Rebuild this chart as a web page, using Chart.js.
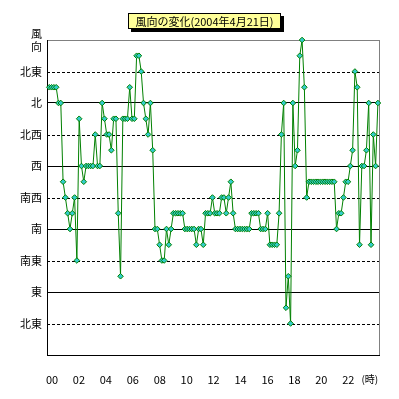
<!DOCTYPE html>
<html>
<head>
<meta charset="utf-8">
<script src="https://cdn.jsdelivr.net/npm/chart.js@4.4.0/dist/chart.umd.min.js"></script>
<style>
html, body { margin: 0; padding: 0; background: #fff; }
#wrap { width: 399px; height: 399px; }
</style>
</head>
<body>
<div id="wrap"><canvas id="windCanvas" width="399" height="399"></canvas></div>
<script>
// タイトル
const chartTitle = '風向の変化(2004年4月21日)';

// 縦軸の方位ラベル (0.5 刻みで16方位)
const yLabels = ['', '北東', '東', '南東', '南', '南西', '西', '北西', '北', '北東', ['風', '向']];

// 横軸の目盛 (時)
const tickHours = [0, 2, 4, 6, 8, 10, 12, 14, 16, 18, 20, 22, 23.6];
const tickTexts = ['00', '02', '04', '06', '08', '10', '12', '14', '16', '18', '20', '22', '(時)'];

// 10分ごとの風向 00:00 - 23:50
const direction = [
  8.5, 8.5, 8.5, 8.5, 8.0, 8.0, 5.5, 5.0, 4.5, 4.0, 4.5, 5.0,
  3.0, 7.5, 6.0, 5.5, 6.0, 6.0, 6.0, 6.0, 7.0, 6.0, 6.0, 8.0,
  7.5, 7.0, 7.0, 6.5, 7.5, 7.5, 4.5, 2.5, 7.5, 7.5, 7.5, 8.5,
  7.5, 7.5, 9.5, 9.5, 9.0, 8.0, 7.5, 7.0, 8.0, 6.5, 4.0, 4.0,
  3.5, 3.0, 3.0, 4.0, 3.5, 4.0, 4.5, 4.5, 4.5, 4.5, 4.5, 4.0,
  4.0, 4.0, 4.0, 4.0, 3.5, 4.0, 4.0, 3.5, 4.5, 4.5, 4.5, 5.0,
  4.5, 4.5, 4.5, 5.0, 5.0, 4.5, 5.0, 5.5, 4.5, 4.0, 4.0, 4.0,
  4.0, 4.0, 4.0, 4.0, 4.5, 4.5, 4.5, 4.5, 4.0, 4.0, 4.0, 4.5,
  3.5, 3.5, 3.5, 3.5, 4.5, 7.0, 8.0, 1.5, 2.5, 1.0, 8.0, 6.0,
  6.5, 9.5, 10.0, 8.5, 5.0, 5.5, 5.5, 5.5, 5.5, 5.5, 5.5, 5.5,
  5.5, 5.5, 5.5, 5.5, 5.5, 4.0, 4.5, 4.5, 5.0, 5.5, 5.5, 6.0,
  6.5, 9.0, 8.5, 3.5, 6.0, 6.0, 6.5, 8.0, 3.5, 7.0, 6.0, 8.0
];

// 時刻 (時間単位)
const times = direction.map((v, i) => i / 6);

const cjkFont = 'Noto Sans CJK JP';

// 点線の目盛線と右側の枠
const gridPlugin = {
  id: 'gridPlugin',
  beforeDatasetsDraw(chart) {
    const { ctx, chartArea, scales } = chart;
    const y = scales.y;
    ctx.save();
    ctx.strokeStyle = '#000';
    ctx.lineWidth = 1;
    ctx.setLineDash([3, 2]);
    y.ticks.forEach(t => {
      if (t.value % 2 === 1) {
        const py = Math.round(y.getPixelForValue(t.value)) + 0.5;
        ctx.beginPath();
        ctx.moveTo(chartArea.left, py);
        ctx.lineTo(chartArea.right, py);
        ctx.stroke();
      }
    });
    ctx.setLineDash([]);
    ctx.strokeStyle = '#808080';
    ctx.beginPath();
    ctx.moveTo(chartArea.right + 0.5, chartArea.top);
    ctx.lineTo(chartArea.right + 0.5, chartArea.bottom);
    ctx.stroke();
    ctx.restore();
  }
};

// タイトルの枠 (影付き)
const titlePlugin = {
  id: 'titlePlugin',
  afterDraw(chart) {
    const ctx = chart.ctx;
    ctx.save();
    ctx.fillStyle = '#000';
    ctx.fillRect(131, 16, 153, 16);
    ctx.fillStyle = '#FFFF99';
    ctx.fillRect(128, 13, 153, 16);
    ctx.strokeStyle = '#000';
    ctx.lineWidth = 1;
    ctx.strokeRect(128.5, 13.5, 152, 15);
    ctx.fillStyle = '#000';
    ctx.font = '11px "' + cjkFont + '"';
    ctx.textAlign = 'center';
    ctx.textBaseline = 'middle';
    ctx.fillText(chartTitle, 204.5, 21.5);
    ctx.restore();
  }
};

var windCtx = document.getElementById('windCanvas').getContext('2d');

var windChart = new Chart(windCtx, {
  type: 'line',
  data: {
    datasets: [{
      label: '風向',
      data: direction.map((v, i) => ({ x: times[i], y: v })),
      borderColor: '#008000',
      borderWidth: 1,
      tension: 0,
      pointStyle: 'rectRot',
      pointRadius: 2.8,
      pointBackgroundColor: '#33CCCC',
      pointBorderColor: '#008000',
      pointBorderWidth: 1,
      clip: false
    }]
  },
  options: {
    responsive: false,
    devicePixelRatio: 1,
    animation: false,
    events: [],
    layout: {
      padding: { top: 40, right: 20, left: 0, bottom: 0 }
    },
    plugins: {
      legend: { display: false },
      tooltip: { enabled: false },
      title: { display: false }
    },
    scales: {
      x: {
        type: 'linear',
        display: false,
        min: -0.167,
        max: 23.913
      },
      xLabel: {
        type: 'linear',
        position: 'bottom',
        min: -0.371,
        max: 24.28,
        afterBuildTicks: axis => {
          axis.ticks = tickHours.map(v => ({ value: v }));
        },
        afterFit: axis => { axis.height = 44; },
        grid: { drawOnChartArea: false, drawTicks: false },
        border: { color: '#000', width: 1 },
        ticks: {
          autoSkip: false,
          maxRotation: 0,
          padding: 18,
          color: '#000',
          font: ctx => ctx.index === tickTexts.length - 1
            ? { family: cjkFont, size: 10 }
            : { family: cjkFont, size: 11 },
          callback: (value, index) => tickTexts[index]
        }
      },
      y: {
        min: 0,
        max: 10,
        afterFit: axis => { axis.width = 47; },
        grid: {
          drawTicks: false,
          color: ctx => {
            const v = ctx.tick.value;
            if (v === 10) return '#808080';
            if (v > 0 && v % 2 === 0) return '#000';
            return 'rgba(0,0,0,0)';
          }
        },
        border: { color: '#000', width: 1 },
        ticks: {
          stepSize: 1,
          autoSkip: false,
          padding: 5,
          color: '#000',
          font: { family: cjkFont, size: 11 },
          callback: value => yLabels[value]
        }
      }
    }
  },
  plugins: [gridPlugin, titlePlugin]
});
</script>
</body>
</html>
